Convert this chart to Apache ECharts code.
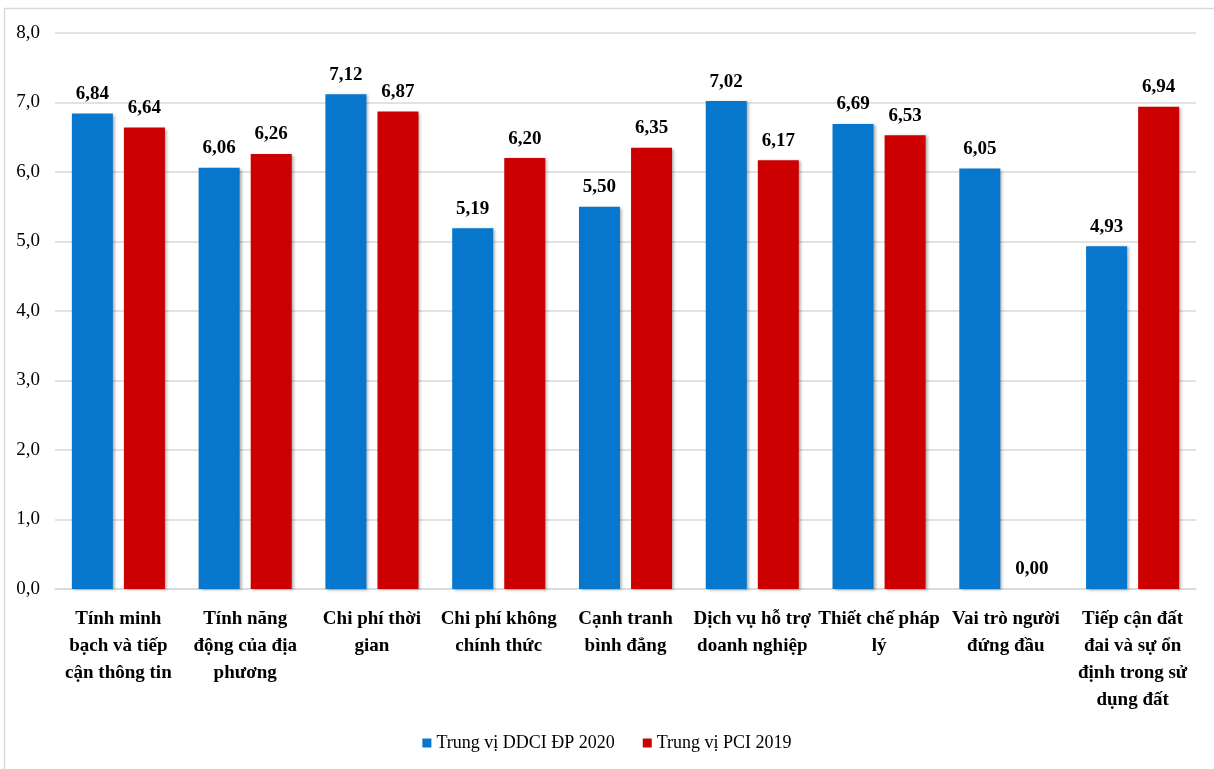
<!DOCTYPE html>
<html>
<head>
<meta charset="utf-8">
<script src="https://cdn.jsdelivr.net/npm/echarts@6/dist/echarts.min.js"></script>
<style>
  html, body { margin: 0; padding: 0; background: #fff; }
  #chart { width: 1214px; height: 769px; }
</style>
</head>
<body>
<div id="chart"></div>
<script>
const categories = [
  'Tính minh\nbạch và tiếp\ncận thông tin',
  'Tính năng\nđộng của địa\nphương',
  'Chi phí thời\ngian',
  'Chi phí không\nchính thức',
  'Cạnh tranh\nbình đẳng',
  'Dịch vụ hỗ trợ\ndoanh nghiệp',
  'Thiết chế pháp\nlý',
  'Vai trò người\nđứng đầu',
  'Tiếp cận đất\nđai và sự ổn\nđịnh trong sử\ndụng đất'
];
const seriesNames = ['Trung vị DDCI ĐP 2020', 'Trung vị PCI 2019'];
const ddci2020 = [6.84, 6.06, 7.12, 5.19, 5.50, 7.02, 6.69, 6.05, 4.93];
const pci2019 = [6.64, 6.26, 6.87, 6.20, 6.35, 6.17, 6.53, 0.00, 6.94];

const serif = '"Liberation Serif", "Times New Roman", serif';
const fmt = v => v.toFixed(2).replace('.', ',');

const chart = echarts.init(document.getElementById('chart'));

function barSeries(name, data, color) {
  return {
    name: name,
    type: 'bar',
    data: data,
    barWidth: 41,
    barGap: '27%',
    itemStyle: {
      color: color,
      shadowColor: 'rgba(0,0,0,0.35)',
      shadowBlur: 3,
      shadowOffsetX: 2,
      shadowOffsetY: 1
    },
    label: {
      show: true,
      position: 'top',
      distance: 10,
      formatter: p => fmt(p.value),
      fontFamily: serif,
      fontWeight: 'bold',
      fontSize: 19,
      color: '#000'
    }
  };
}

chart.setOption({
  animation: false,
  backgroundColor: '#fff',
  graphic: [
    { type: 'line', shape: { x1: 4, y1: 8.5, x2: 1214, y2: 8.5 }, style: { stroke: '#d9d9d9', lineWidth: 1.5 } },
    { type: 'line', shape: { x1: 4.5, y1: 8, x2: 4.5, y2: 769 }, style: { stroke: '#d9d9d9', lineWidth: 1.5 } }
  ],
  grid: { left: 55, right: 18, top: 33, bottom: 180, containLabel: false },
  legend: {
    bottom: 12,
    left: 'center',
    itemWidth: 9,
    itemHeight: 9,
    itemGap: 28,
    icon: 'rect',
    textStyle: { fontFamily: serif, fontSize: 18, color: '#000' },
    data: seriesNames
  },
  xAxis: {
    type: 'category',
    data: categories,
    axisLine: { show: true, lineStyle: { color: '#d9d9d9', width: 1.5 } },
    axisTick: { show: false },
    axisLabel: {
      interval: 0,
      margin: 17,
      fontFamily: serif,
      fontWeight: 'bold',
      fontSize: 19,
      lineHeight: 27,
      color: '#000'
    }
  },
  yAxis: {
    type: 'value',
    min: 0,
    max: 8,
    interval: 1,
    axisLine: { show: false },
    axisTick: { show: false },
    splitLine: { lineStyle: { color: '#d9d9d9', width: 1.5 } },
    axisLabel: {
      margin: 15,
      formatter: v => v.toFixed(1).replace('.', ','),
      fontFamily: serif,
      fontSize: 19,
      color: '#000'
    }
  },
  series: [
    barSeries(seriesNames[0], ddci2020, '#0677cc'),
    barSeries(seriesNames[1], pci2019, '#cc0000')
  ]
});
</script>
</body>
</html>
